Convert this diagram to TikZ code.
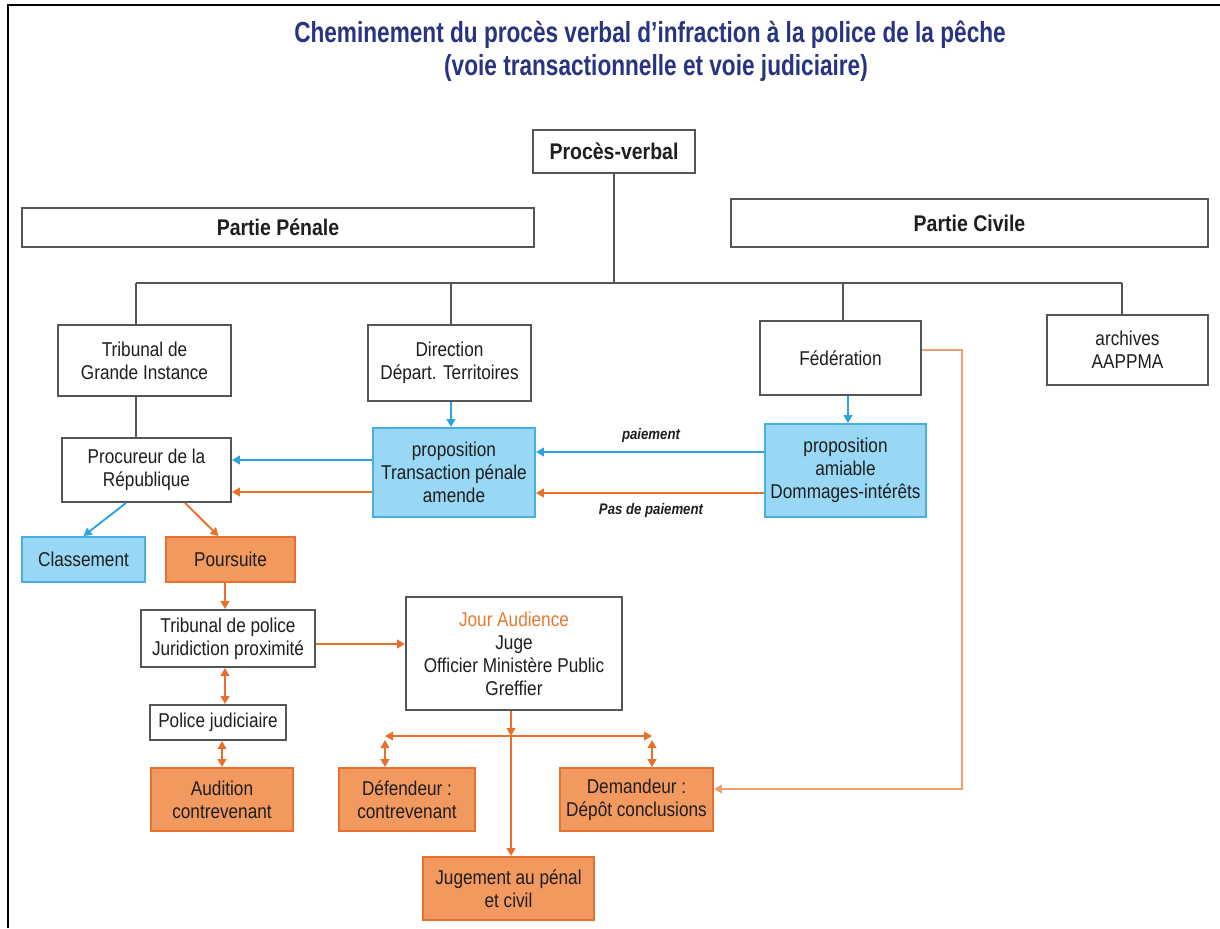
\documentclass[tikz,border=0pt]{standalone}
\usepackage{fontspec}
\setmainfont[FakeStretch=0.86]{Liberation Sans}
\newfontfamily\titlefont[FakeStretch=0.78]{Liberation Sans}
\usetikzlibrary{arrows.meta,calc}
\newlength\pxu \setlength\pxu{0.75pt}
\definecolor{navy}{RGB}{40,52,128}
\definecolor{txt}{RGB}{30,30,30}
\definecolor{gborder}{RGB}{85,85,85}
\definecolor{bfill}{RGB}{152,216,245}
\definecolor{bborder}{RGB}{70,175,228}
\definecolor{bline}{RGB}{45,162,225}
\definecolor{ofill}{RGB}{241,153,95}
\definecolor{oborder}{RGB}{230,112,45}
\definecolor{oline}{RGB}{232,112,40}
\definecolor{olight}{RGB}{240,160,110}
\definecolor{ojour}{RGB}{232,120,50}
\tikzset{
  sz/.style 2 args={minimum width=#1\pxu, minimum height=#2\pxu},
  base/.style={line width=1.4pt, align=center, inner sep=0pt, text=txt,
    font=\fontsize{15pt}{17.25pt}\selectfont},
  wbox/.style={base, draw=gborder, fill=white},
  bbox/.style={base, draw=bborder, fill=bfill},
  obox/.style={base, draw=oborder, fill=ofill},
  headbox/.style={wbox, font=\fontsize{17pt}{19pt}\selectfont\bfseries},
  titletext/.style={text=navy, font=\titlefont\fontsize{21.75pt}{25pt}\selectfont\bfseries},
  lbl/.style={text=txt, font=\fontsize{11.5pt}{13pt}\selectfont\bfseries\itshape},
  tip/.style={-{Triangle[length=6pt,width=6.5pt]}},
  gconn/.style={draw=gborder, line width=1.4pt},
  barrow/.style={draw=bline, line width=1.4pt, tip},
  oarrow/.style={draw=oline, line width=1.4pt, tip},
  odbl/.style={draw=oline, line width=1.4pt, {Triangle[length=6pt,width=6.5pt]}-{Triangle[length=6pt,width=6.5pt]}},
  olarrow/.style={draw=olight, line width=1.4pt, tip},
}
\begin{document}
\begin{tikzpicture}[x=0.75pt,y=-0.75pt]
\useasboundingbox (0,0) rectangle (1220,928);
% frame
\draw[line width=1.5pt, black] (8,928) -- (8,5) -- (1220,5);
% title
\node[titletext] (t1) at (650,35) {Cheminement du procès verbal d’infraction à la police de la pêche};
\node[titletext] (t2) at (656,68) {(voie transactionnelle et voie judiciaire)};
% top boxes
\node[headbox, sz={162}{43}] (pv) at (614,151.5) {Procès-verbal};
\node[headbox, sz={512}{39}] (pp) at (278,227.5) {Partie Pénale};
\node[headbox, sz={477}{48}] (pc) at (969.5,223) {Partie Civile};
% second row
\node[wbox, sz={173}{71}] (tgi) at (144.5,360.5) {Tribunal de\\Grande Instance};
\node[wbox, sz={163}{76}] (dir) at (449.5,363) {Direction\\Départ. Territoires};
\node[wbox, sz={161}{74}] (fed) at (840.5,358) {Fédération};
\node[wbox, sz={161}{70}] (arc) at (1127.5,350) {archives\\AAPPMA};
% third row
\node[wbox, sz={169}{64}] (proc) at (146.5,470) {Procureur de la\\République};
\node[bbox, sz={162}{89}] (tp) at (454,472.5) {proposition\\Transaction pénale\\amende};
\node[bbox, sz={161}{93}] (am) at (845.5,470.5) {proposition\\amiable\\Dommages-intérêts};
\node[bbox, sz={123}{45}] (cl) at (83.5,559.5) {Classement};
\node[obox, sz={129}{45}] (po) at (230.5,559.5) {Poursuite};
% lower part
\node[wbox, sz={174}{57}] (tpol) at (228,638.5) {Tribunal de police\\Juridiction proximité};
\node[wbox, sz={136}{35}] (pj) at (218,722.5) {Police judiciaire};
\node[obox, sz={142}{63}] (aud) at (222,799.5) {Audition\\contrevenant};
\node[wbox, sz={216}{113}] (ja) at (514,653.5) {\textcolor{ojour}{Jour Audience}\\Juge\\Officier Ministère Public\\Greffier};
\node[obox, sz={136}{63}] (def) at (407,799.5) {Défendeur :\\contrevenant};
\node[obox, sz={153}{63}] (dem) at (636.5,799.5) {Demandeur :\\Dépôt conclusions};
\node[obox, sz={171}{63}] (jug) at (508.5,888.5) {Jugement au pénal\\et civil};
% tree connectors
\coordinate (b1) at (136,283);
\coordinate (b2) at (451,283);
\coordinate (b3) at (843,283);
\coordinate (b4) at (1122,283);
\draw[gconn] (pv.south) -- (pv.south |- b1);
\draw[gconn] (b1) -- (b4);
\draw[gconn] (b1) -- (b1 |- tgi.north);
\draw[gconn] (b2) -- (b2 |- dir.north);
\draw[gconn] (b3) -- (b3 |- fed.north);
\draw[gconn] (b4) -- (b4 |- arc.north);
\draw[gconn] (b1 |- tgi.south) -- (b1 |- proc.north);
% blue / orange flows
\coordinate (xd) at (451,0);
\coordinate (xf) at (848,0);
\draw[barrow] (dir.south -| xd) -- (tp.north -| xd);
\draw[barrow] (fed.south -| xf) -- (am.north -| xf);
\coordinate (y1) at (0,452);
\coordinate (y2) at (0,493);
\coordinate (y3) at (0,460);
\coordinate (y4) at (0,492);
\draw[barrow] (am.west |- y1) -- (tp.east |- y1);
\draw[oarrow] (am.west |- y2) -- (tp.east |- y2);
\node[lbl] (lp) at (651,436) {paiement};
\node[lbl] (lnp) at (651,511) {Pas de paiement};
\draw[barrow] (tp.west |- y3) -- (proc.east |- y3);
\draw[oarrow] (tp.west |- y4) -- (proc.east |- y4);
\coordinate (xc) at (126,0);
\coordinate (xp) at (185,0);
\draw[barrow] (proc.south -| xc) -- (cl.north);
\draw[oarrow] (proc.south -| xp) -- ([xshift=-12\pxu]po.north);
\coordinate (xa) at (225,0);
\coordinate (xb) at (222,0);
\draw[oarrow] (po.south -| xa) -- (tpol.north -| xa);
\draw[odbl] (tpol.south -| xa) -- (pj.north -| xa);
\draw[odbl] (pj.south -| xb) -- (aud.north -| xb);
\coordinate (yt) at (0,644);
\draw[oarrow] (tpol.east |- yt) -- (ja.west |- yt);
% audience junction
\coordinate (jn) at (511,736);
\coordinate (jl) at (385,736);
\coordinate (jr) at (652,736);
\coordinate (jl2) at (385,740);
\coordinate (jr2) at (652,740);
\draw[oarrow] (ja.south -| jn) -- (jn);
\draw[oarrow] (jn) -- (jn |- jug.north);
\draw[odbl] (jl) -- (jr);
\draw[odbl] (jl2) -- (jl2 |- def.north);
\draw[odbl] (jr2) -- (jr2 |- dem.north);
% federation to demandeur
\coordinate (fr) at (962,350);
\coordinate (fd) at (962,789);
\draw[olarrow] (fed.east |- fr) -- (fr) -- (fd) -- (dem.east |- fd);
\end{tikzpicture}
\end{document}
